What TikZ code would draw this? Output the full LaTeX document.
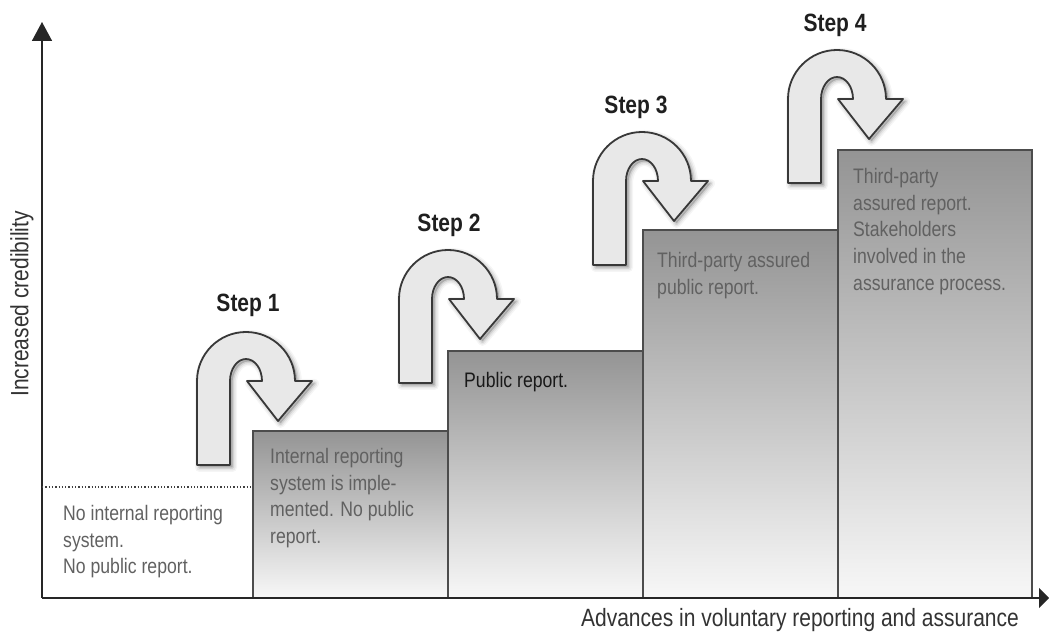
\documentclass[tikz,border=0pt]{standalone}
\usepackage{fontspec}
\newfontfamily\narrowsans[FakeStretch=0.84]{Liberation Sans}
\usetikzlibrary{arrows.meta}
\begin{document}
\begin{tikzpicture}[x=1pt,y=1pt,
  axisline/.style={line width=1.5pt, draw=black!85},
  stepbox/.style={draw=black!70, line width=1.8pt, top color=black!42, bottom color=black!3},
  desc/.style={anchor=north west, inner sep=0pt, align=left, text=black!62,
    font=\narrowsans\fontsize{21}{26.7}\selectfont},
  steplabel/.style={anchor=base, inner sep=0pt, text=black!88,
    font=\narrowsans\bfseries\fontsize{25}{30}\selectfont},
  axislabel/.style={inner sep=0pt, text=black!80,
    font=\narrowsans\fontsize{25}{30}\selectfont},
  uturnbody/.style={fill=black!9, draw=black!78, line width=1.8pt, line join=round},
  uturn/.pic={
    % soft shadow, built from a few translucent layers
    \foreach \w/\o in {9/0.04, 6/0.06, 3/0.09}{
      \path[fill=black, draw=black, line width=\w pt, opacity=\o, line join=round, shift={(2.5,-2.5)}]
        (0,0) -- (0,84) arc[start angle=180, end angle=0, radius=49]
        -- (115,84) -- (81,44) -- (50,84) -- (65,84)
        arc[start angle=0, end angle=180, x radius=16, y radius=22]
        -- (33,0) -- cycle;
    }
    % the u-turn arrow itself
    \path[uturnbody]
      (0,0) -- (0,84) arc[start angle=180, end angle=0, radius=49]
      -- (115,84) -- (81,44) -- (50,84) -- (65,84)
      arc[start angle=0, end angle=180, x radius=16, y radius=22]
      -- (33,0) -- cycle;
  }
]
\useasboundingbox (0,0) rectangle (1049,642);

% staircase of reporting levels
\path[stepbox] (253,44) rectangle (448,211);
\path[stepbox] (448,44) rectangle (643,291);
\path[stepbox] (643,44) rectangle (838,412);
\path[stepbox] (838,44) rectangle (1032,492);

% axes
\coordinate (origin) at (42,44);
\coordinate (ytip) at (42,620);
\coordinate (xtip) at (1049,44);
\draw[axisline, -{Triangle[width=20pt,length=19pt]}] (origin) -- (ytip);
\draw[axisline, -{Triangle[width=20pt,length=10pt]}] (origin) -- (xtip);

% starting level
\coordinate (dotstart) at (42,155);
\coordinate (dotend) at (253,155);
\draw[dotted, line width=1.3pt, black!75] (dotstart) -- (dotend);

% step arrows
\pic (arrowone) at (197,177) {uturn};
\pic (arrowtwo) at (399,259) {uturn};
\pic (arrowthree) at (593,377) {uturn};
\pic (arrowfour) at (788,459) {uturn};

% step labels
\node[steplabel] (stepone) at (248,330) {Step 1};
\node[steplabel] (steptwo) at (449,410) {Step 2};
\node[steplabel] (stepthree) at (636,528) {Step 3};
\node[steplabel] (stepfour) at (835,610) {Step 4};

% level descriptions
\node[desc] (levelzero) at (63,137) {No internal reporting\\system.\\No public report.};
\node[desc] (levelone) at (270,194) {Internal reporting\\system is imple-\\mented. No public\\report.};
\node[desc, text=black!90] (leveltwo) at (464,270) {Public report.};
\node[desc] (levelthree) at (657,390) {Third-party assured\\public report.};
\node[desc] (levelfour) at (853,474) {Third-party\\assured report.\\Stakeholders\\involved in the\\assurance process.};

% axis titles
\node[axislabel, rotate=90] (ylabel) at (22,338) {Increased credibility};
\node[axislabel, anchor=base] (xlabel) at (800,15) {Advances in voluntary reporting and assurance};
\end{tikzpicture}
\end{document}
